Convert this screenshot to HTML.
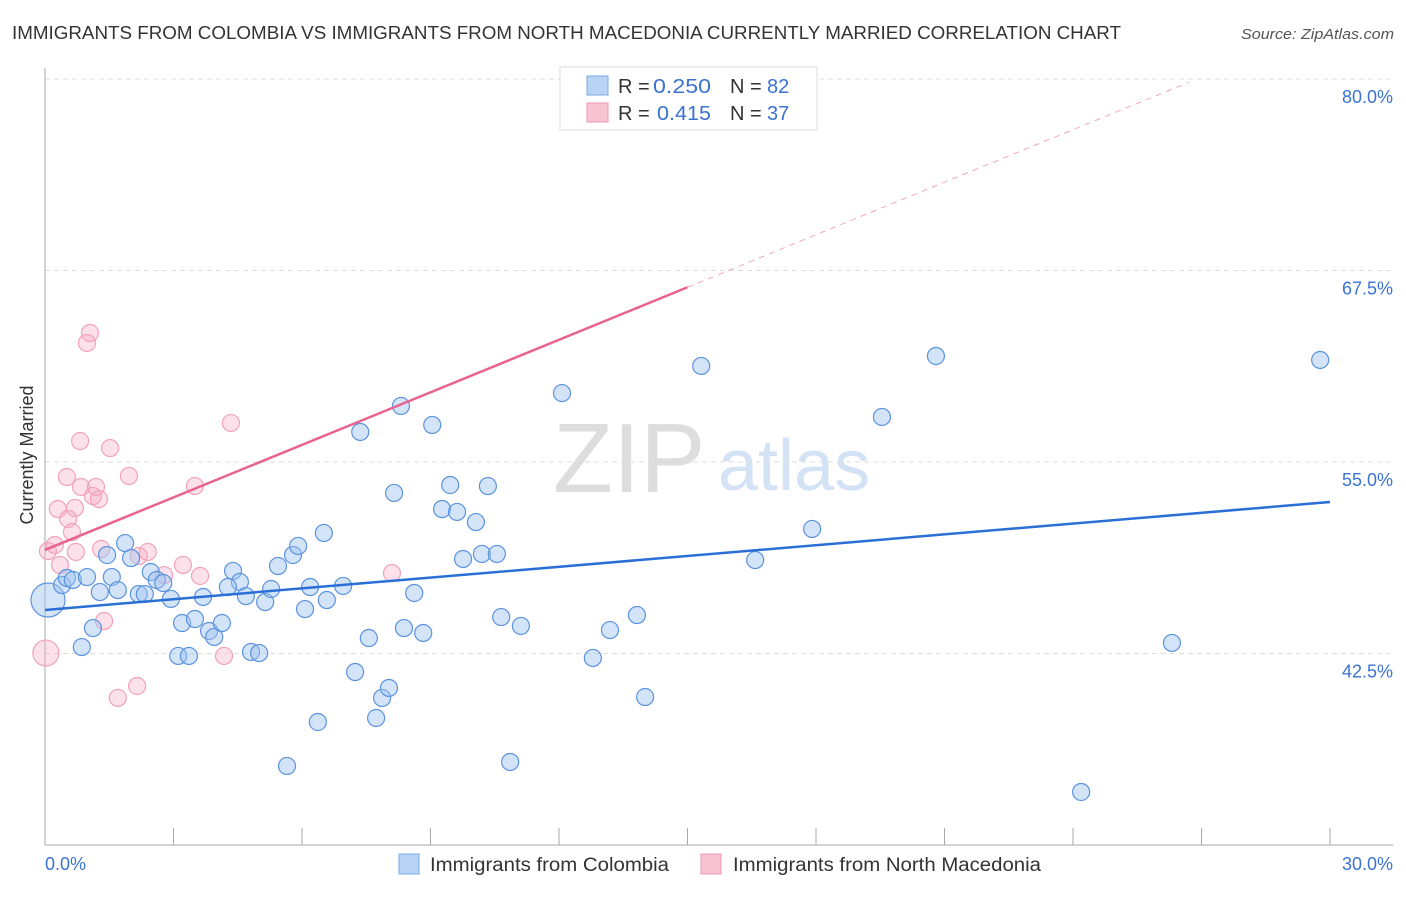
<!DOCTYPE html>
<html><head><meta charset="utf-8">
<style>
body{margin:0;background:#fff;font-family:"Liberation Sans",sans-serif;}
svg text{font-family:"Liberation Sans",sans-serif;}
</style></head>
<body>
<svg id="chart" width="1406" height="892" viewBox="0 0 1406 892">
<text x="12" y="39" font-size="18" fill="#333" textLength="1109" lengthAdjust="spacingAndGlyphs">IMMIGRANTS FROM COLOMBIA VS IMMIGRANTS FROM NORTH MACEDONIA CURRENTLY MARRIED CORRELATION CHART</text>
<text x="1394" y="39" font-size="15" fill="#555" font-style="italic" text-anchor="end" textLength="153" lengthAdjust="spacingAndGlyphs">Source: ZipAtlas.com</text>
<g>
<text x="553" y="492" font-size="98" fill="#ddd" font-family="Liberation Serif">ZIP</text>
<text x="718" y="490" font-size="72" fill="#d3e2f4">atlas</text>
</g>
<g id="grid"></g>
<g id="axes"></g>
<g id="marks"></g>
<text transform="translate(33,455) rotate(-90)" font-size="18" fill="#333" text-anchor="middle">Currently Married</text>
<g>
<rect x="560" y="67" width="257" height="63" fill="#fff" stroke="#ddd"/>
<rect x="587" y="76" width="21" height="19" fill="#b9d3f5" stroke="#7aa9e8"/>
<text x="618" y="93" font-size="20" fill="#333">R = </text><text x="653" y="93" font-size="20" fill="#3b73d2" textLength="58" lengthAdjust="spacingAndGlyphs">0.250</text>
<text x="730" y="93" font-size="20" fill="#333">N = </text><text x="767" y="93" font-size="20" fill="#3b73d2">82</text>
<rect x="587" y="103" width="21" height="19" fill="#f8c3d3" stroke="#ee95b0"/>
<text x="618" y="120" font-size="20" fill="#333">R = </text><text x="657" y="120" font-size="20" fill="#3b73d2" textLength="54" lengthAdjust="spacingAndGlyphs">0.415</text>
<text x="730" y="120" font-size="20" fill="#333">N = </text><text x="767" y="120" font-size="20" fill="#3b73d2">37</text>
</g>
<g>
<rect x="399" y="854" width="20" height="20" fill="#b9d3f5" stroke="#7aa9e8"/>
<text x="430" y="871" font-size="19" fill="#333" textLength="239" lengthAdjust="spacingAndGlyphs">Immigrants from Colombia</text>
<rect x="701" y="854" width="20" height="20" fill="#f8c3d3" stroke="#ee95b0"/>
<text x="733" y="871" font-size="19" fill="#333" textLength="308" lengthAdjust="spacingAndGlyphs">Immigrants from North Macedonia</text>
</g>
</svg>
<script>
const yTicks=[80,67.5,55,42.5];
const yTickLabels=["80.0%","67.5%","55.0%","42.5%"];
const xTickVals=[3,6,9,12,15,18,21,24,27,30];
const xEndLabels=["0.0%","30.0%"];
const blueX=[0.07,0.40,0.51,0.65,0.98,0.86,1.12,1.28,1.45,1.56,1.70,1.87,2.01,2.19,2.33,2.47,2.61,2.76,2.94,3.20,3.11,3.36,3.50,3.69,3.83,3.95,4.13,4.39,4.55,4.27,4.69,4.81,5.00,5.14,5.28,5.44,5.65,5.79,5.91,6.07,6.19,6.37,6.51,6.58,6.96,7.24,7.36,7.56,7.73,7.87,8.03,8.15,8.31,8.38,8.62,8.83,9.04,9.27,9.46,9.62,9.76,10.06,10.20,10.34,10.55,10.65,10.86,11.11,12.07,12.79,13.19,13.82,14.01,15.32,16.58,17.91,19.54,20.80,24.19,26.31,29.77];
const blueY=[45.99,46.97,47.43,47.30,47.49,42.92,44.16,46.51,48.93,47.49,46.64,49.71,48.73,46.38,46.38,47.82,47.30,47.10,46.06,44.49,42.34,42.34,44.75,46.19,43.97,43.58,44.49,47.89,47.17,46.84,46.25,42.60,42.53,45.86,46.71,48.21,35.16,48.93,49.52,45.40,46.84,38.03,50.37,45.99,46.91,41.29,56.96,43.51,38.29,39.60,40.25,52.98,58.66,44.16,46.45,43.84,57.42,51.93,53.50,51.74,48.67,51.08,49.00,53.43,49.00,44.88,35.42,44.30,59.50,42.21,44.03,45.01,39.66,61.27,48.60,50.63,57.94,61.92,33.46,43.19,61.66];
const pinkX=[0.02,0.07,0.23,0.30,0.35,0.54,0.63,0.70,0.51,0.72,0.82,0.84,0.98,1.05,1.12,1.19,1.26,1.31,1.38,1.52,1.70,1.96,2.15,2.19,2.40,2.78,3.22,3.50,3.62,4.18,4.34,8.10];
const pinkY=[42.53,49.19,49.58,51.93,48.28,51.28,50.43,52.00,54.02,49.13,56.37,53.37,62.77,63.42,52.78,53.37,52.58,49.32,44.62,55.91,39.60,54.09,40.38,48.86,49.13,47.62,48.28,53.43,47.56,42.34,57.55,47.75];
const blueLine=[45.34,52.39]; // y at x=0 and x=30
const pinkLine=[49.26,1.143]; // intercept, slope
const pinkSolidEnd=15.0;
const pinkDashEnd=26.7;

const X0=45,X1=1330,Y80=79,PXPER=15.32;
const sx=v=>X0+(v/30)*(X1-X0);
const sy=v=>Y80+(80-v)*PXPER;
const NS="http://www.w3.org/2000/svg";
function mk(tag,attrs,parent){const e=document.createElementNS(NS,tag);for(const k in attrs)e.setAttribute(k,attrs[k]);parent.appendChild(e);return e;}
const grid=document.getElementById('grid'),axes=document.getElementById('axes'),marks=document.getElementById('marks');
yTicks.forEach((t,i)=>{
 const l=mk('line',{x1:45,x2:1393,y1:sy(t),y2:sy(t),stroke:'#ddd','stroke-dasharray':'5,4'},grid);
 
 
 const tx=mk('text',{x:1393,y:sy(t)+24,'font-size':18,fill:'#3b73d2','text-anchor':'end'},axes);
 tx.textContent=yTickLabels[i];
 
 
});
const ya=mk('line',{x1:45,x2:45,y1:68,y2:845,stroke:'#aaa'},axes);


const xa=mk('line',{x1:45,x2:1393,y1:845,y2:845,stroke:'#aaa'},axes);


xTickVals.forEach(v=>{
 const t=mk('line',{x1:sx(v),x2:sx(v),y1:828,y2:845,stroke:'#aaa'},axes);
 
 
});
[[0,'start',45],[30,'end',1393]].forEach((d,i)=>{
 const t=mk('text',{x:d[2],y:870,'font-size':18,fill:'#3b73d2','text-anchor':d[1]},axes);
 t.textContent=xEndLabels[i];
 
 
});
pinkX.forEach((x,i)=>{
 const c=mk('circle',{cx:sx(x),cy:sy(pinkY[i]),r:i===0?13:8.5,fill:'rgba(246,170,195,0.35)',stroke:'#f2a2bb','stroke-width':1.2},marks);
 
 
});
blueX.forEach((x,i)=>{
 const c=mk('circle',{cx:sx(x),cy:sy(blueY[i]),r:i===0?17:8.5,fill:'rgba(160,196,240,0.45)',stroke:'#5b93de','stroke-width':1.2},marks);
 
 
});
const bl=mk('line',{x1:sx(0),y1:sy(blueLine[0]),x2:sx(30),y2:sy(blueLine[1]),stroke:'#2a6fd6','stroke-width':2.5},marks);


const pl=mk('line',{x1:sx(0),y1:sy(pinkLine[0]),x2:sx(pinkSolidEnd),y2:sy(pinkLine[0]+pinkLine[1]*pinkSolidEnd),stroke:'#e8638e','stroke-width':2.5},marks);


const pd=mk('line',{x1:sx(pinkSolidEnd),y1:sy(pinkLine[0]+pinkLine[1]*pinkSolidEnd),x2:sx(pinkDashEnd),y2:sy(pinkLine[0]+pinkLine[1]*pinkDashEnd),stroke:'#eeaac0','stroke-width':1,'stroke-dasharray':'6,5'},marks);


</script>
</body></html>
